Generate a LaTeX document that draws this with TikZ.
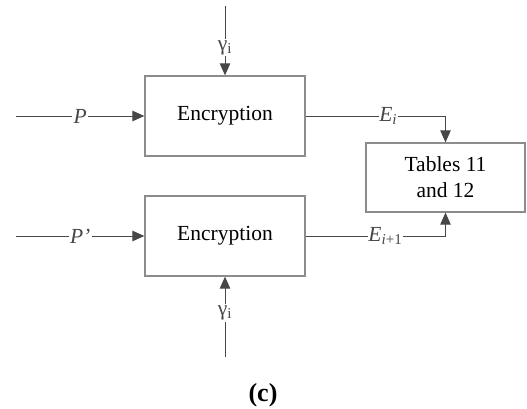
\documentclass[tikz,border=0pt]{standalone}
\usepackage{fontspec}
\setmainfont{Liberation Serif}
\usetikzlibrary{arrows.meta}
\begin{document}
\begin{tikzpicture}[x=1pt,y=-1pt,
  wire/.style={draw=black!65,line width=0.9pt},
  tip/.style={-{Triangle[length=12pt,width=10.5pt]},color=black!72},
  block/.style={draw=black!45,line width=1.3pt,minimum width=160pt,minimum height=80pt,inner sep=0pt,font=\fontsize{21.5}{25}\selectfont},
  lbl/.style={fill=white,inner sep=1.5pt,font=\fontsize{21.5}{25}\selectfont}]
\useasboundingbox (0,0) rectangle (527,409);
% encryption blocks
\node[block] (enc1) at (225,116) {Encryption};
\node[block] (enc2) at (225,236) {Encryption};
% result table block
\node[block,minimum width=159pt,minimum height=69pt,align=center,font=\fontsize{21.5}{26}\selectfont] (tab) at (445.5,177.5) {Tables 11\\and 12};
% free ends of the inputs
\coordinate (pin1) at (16,116);
\coordinate (pin2) at (16,236);
\coordinate (gin1) at (225,6);
\coordinate (gin2) at (225,357);
% plaintext inputs
\draw[wire,tip] (pin1) -- node[lbl,pos=0.5]{\textit{P}} (enc1.west);
\draw[wire,tip] (pin2) -- node[lbl,pos=0.5]{\textit{P’}} (enc2.west);
% round inputs
\draw[wire,tip] (gin1) -- node[lbl,pos=0.6]{γ\textsubscript{i}} (enc1.north);
\draw[wire,tip] (gin2) -- node[lbl,pos=0.55]{γ\textsubscript{i}} (enc2.south);
% outputs to the table
\draw[wire,tip] (enc1.east) -- node[lbl,pos=0.59,inner sep=0.5pt]{\textit{E}\textsubscript{\textit{i}}} (enc1.east -| tab.north) -- (tab.north);
\draw[wire,tip] (enc2.east) -- node[lbl,pos=0.57,inner sep=0.5pt]{\textit{E}\textsubscript{\textit{i}+1}} (enc2.east -| tab.south) -- (tab.south);
% caption
\node[font=\fontsize{26}{30}\selectfont\bfseries] (cap) at (263,395) {(c)};
\end{tikzpicture}
\end{document}
